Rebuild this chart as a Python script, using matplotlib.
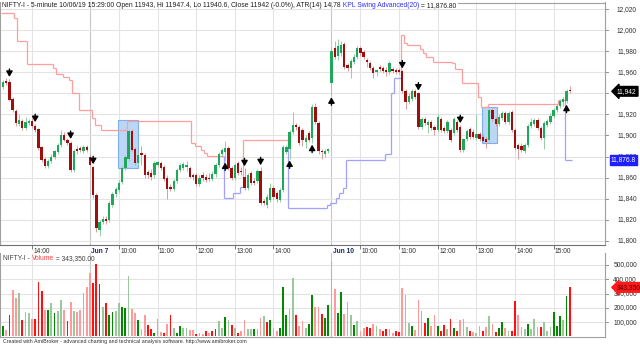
import matplotlib
matplotlib.use('Agg')
import matplotlib.pyplot as plt
from matplotlib.patches import Rectangle
from matplotlib.lines import Line2D
import matplotlib.transforms as mtrans

plt.rcParams['font.family'] = ['Liberation Sans', 'DejaVu Sans']

# ---------------- data ----------------
opens = [11946, 11952, 11951, 11935, 11923, 11911, 11914, 11907, 11912, 11914,
         11909, 11906, 11889, 11878, 11871, 11876, 11880, 11884, 11891, 11900,
         11896, 11893, 11867, 11887, 11888, 11885, 11889,
         11880, 11870, 11843, 11810, 11818, 11821, 11820, 11834, 11844, 11848,
         11856, 11869, 11878, 11904, 11887, 11874, 11883, 11881, 11865, 11864,
         11862, 11872, 11874, 11870, 11860, 11851, 11849, 11857, 11867, 11869,
         11870, 11869, 11862, 11862, 11854, 11862, 11861, 11860, 11859, 11863,
         11872, 11882, 11884, 11888, 11869, 11860, 11874, 11866, 11861, 11850,
         11864, 11857, 11857, 11866, 11838, 11834, 11839, 11850, 11845, 11839,
         11848, 11884, 11887, 11903, 11910, 11908, 11905, 11894, 11902, 11898,
         11927, 11912, 11885, 11882, 11885,
         11950, 11983, 11976, 11978, 11987, 11967, 11964, 11970, 11975, 11983,
         11979, 11972, 11969, 11964, 11960, 11965, 11964, 11962, 11960, 11963,
         11962, 11962, 11961, 11942, 11932, 11935, 11942, 11940, 11908, 11916,
         11910, 11913, 11908, 11905, 11916, 11907, 11904, 11905, 11902, 11913,
         11908, 11886, 11897, 11906, 11903, 11898, 11901, 11899, 11897, 11896,
         11924, 11916, 11911, 11917, 11921, 11913, 11922, 11905, 11891, 11890,
         11885, 11891, 11909, 11911, 11915, 11907, 11898, 11910, 11913, 11919,
         11924, 11928, 11932, 11933, 11943]
highs = [11953, 11955, 11954, 11937, 11925, 11920, 11916, 11918, 11916, 11917,
         11911, 11907, 11890, 11880, 11878, 11882, 11886, 11893, 11905, 11903,
         11898, 11895, 11887, 11890, 11890, 11891, 11891,
         11882, 11871, 11845, 11820, 11823, 11823, 11838, 11846, 11851, 11858,
         11871, 11881, 11906, 11906, 11889, 11883, 11890, 11883, 11867, 11868,
         11876, 11876, 11876, 11872, 11862, 11854, 11859, 11869, 11874, 11875,
         11876, 11871, 11864, 11864, 11862, 11865, 11863, 11864, 11866, 11874,
         11884, 11888, 11895, 11890, 11871, 11874, 11876, 11870, 11869, 11864,
         11866, 11860, 11868, 11870, 11840, 11844, 11855, 11852, 11847, 11850,
         11891, 11891, 11905, 11922, 11912, 11910, 11907, 11900, 11904, 11930,
         11931, 11914, 11887, 11887, 11888,
         11984, 11990, 11992, 11990, 11989, 11969, 11973, 11977, 11985, 11985,
         11981, 11974, 11971, 11966, 11963, 11967, 11966, 11965, 11971, 11965,
         11964, 11964, 11962, 11944, 11940, 11944, 11944, 11941, 11918, 11918,
         11915, 11915, 11910, 11920, 11918, 11909, 11915, 11907, 11918, 11915,
         11910, 11898, 11906, 11908, 11906, 11920, 11903, 11901, 11899, 11926,
         11926, 11918, 11920, 11923, 11923, 11923, 11924, 11907, 11893, 11893,
         11893, 11911, 11917, 11917, 11917, 11909, 11914, 11916, 11921, 11926,
         11930, 11935, 11937, 11944, 11947.4]
lows = [11944, 11948, 11933, 11922, 11909, 11909, 11905, 11905, 11910, 11907,
        11903, 11886, 11875, 11869, 11869, 11874, 11878, 11882, 11889, 11895,
        11891, 11865, 11865, 11882, 11884, 11883, 11884,
        11871, 11841, 11808, 11804, 11816, 11816, 11818, 11832, 11842, 11846,
        11854, 11867, 11876, 11885, 11872, 11872, 11872, 11860, 11860, 11858,
        11860, 11870, 11867, 11857, 11840, 11847, 11847, 11855, 11865, 11867,
        11866, 11860, 11858, 11852, 11852, 11857, 11856, 11857, 11857, 11861,
        11870, 11880, 11876, 11867, 11858, 11858, 11862, 11862, 11848, 11848,
        11853, 11853, 11855, 11834, 11834, 11831, 11837, 11840, 11837, 11837,
        11846, 11882, 11878, 11901, 11905, 11891, 11890, 11888, 11894, 11893,
        11911, 11882, 11878, 11880, 11883,
        11938, 11973, 11972, 11976, 11963, 11961, 11955, 11968, 11973, 11976,
        11973, 11965, 11962, 11955, 11957, 11961, 11959, 11957, 11958, 11959,
        11958, 11958, 11940, 11925, 11930, 11933, 11935, 11906, 11906, 11910,
        11902, 11905, 11900, 11903, 11903, 11902, 11902, 11894, 11900, 11903,
        11884, 11884, 11895, 11897, 11897, 11896, 11895, 11893, 11888, 11894,
        11914, 11909, 11909, 11915, 11911, 11911, 11903, 11886, 11878, 11884,
        11883, 11889, 11907, 11909, 11905, 11896, 11887, 11908, 11911, 11917,
        11922, 11926, 11928, 11931, 11940.6]
closes = [11951, 11950, 11934, 11924, 11912, 11915, 11907, 11913, 11914, 11909,
          11905, 11888, 11877, 11871, 11876, 11880, 11885, 11891, 11900, 11896,
          11893, 11867, 11885, 11885, 11886, 11889, 11886,
          11872, 11843, 11812, 11818, 11821, 11819, 11836, 11844, 11849, 11855,
          11869, 11880, 11904, 11886, 11874, 11881, 11881, 11862, 11862, 11861,
          11874, 11875, 11869, 11859, 11849, 11849, 11857, 11867, 11872, 11873,
          11872, 11861, 11861, 11854, 11860, 11860, 11858, 11859, 11863, 11872,
          11882, 11886, 11888, 11869, 11860, 11872, 11864, 11865, 11850, 11862,
          11855, 11855, 11866, 11836, 11836, 11842, 11850, 11842, 11840, 11848,
          11889, 11889, 11903, 11910, 11908, 11893, 11896, 11898, 11896, 11927,
          11913, 11885, 11884, 11885, 11887,
          11980, 11975, 11985, 11986, 11965, 11964, 11971, 11975, 11983, 11978,
          11975, 11970, 11964, 11959, 11962, 11963, 11961, 11960, 11969, 11961,
          11960, 11960, 11942, 11932, 11938, 11942, 11937, 11908, 11916, 11912,
          11913, 11907, 11905, 11918, 11905, 11904, 11913, 11896, 11916, 11905,
          11886, 11897, 11904, 11899, 11899, 11901, 11897, 11895, 11894, 11924,
          11916, 11911, 11918, 11921, 11913, 11921, 11905, 11888, 11887, 11886,
          11891, 11909, 11913, 11915, 11907, 11898, 11912, 11914, 11919, 11924,
          11928, 11933, 11935, 11942, 11942]
volumes = [70000, 42000, 147000, 328000, 270000, 307000, 116000, 170000, 163000, 123000,
           119000, 384000, 319000, 188000, 186000, 237000, 167000, 179000, 256000, 184000,
           105000, 244000, 179000, 170000, 186000, 305000, 344000, 442000, 377000, 507000,
           367000, 209000, 235000, 147000, 170000, 177000, 237000, 209000, 202000, 423000,
           193000, 167000, 116000, 51000, 153000, 77000, 49000, 26000, 123000, 28000,
           21000, 88000, 153000, 60000, 26000, 70000, 58000, 60000, 42000, 47000,
           16000, 26000, 19000, 35000, 23000, 35000, 49000, 107000, 58000, 133000,
           112000, 81000, 60000, 23000, 40000, 116000, 51000, 53000, 51000, 53000,
           126000, 144000, 100000, 116000, 60000, 37000, 60000, 349000, 147000, 193000,
           409000, 147000,
           74000, 109000, 56000, 86000, 288000, 207000, 207000, 156000, 126000, 219000,
           528000, 330000, 163000, 309000, 156000, 244000, 153000, 81000, 107000, 37000,
           58000, 65000, 60000, 86000, 72000, 53000, 35000, 53000, 51000, 23000,
           35000, 33000, 340000, 288000, 93000, 74000, 44000, 253000, 181000, 95000,
           128000, 74000, 149000, 72000, 40000, 81000, 53000, 119000, 58000, 37000,
           114000, 119000, 67000, 37000, 33000, 23000, 74000, 37000, 67000, 142000,
           88000, 30000, 58000, 100000, 58000, 35000, 37000, 247000, 149000, 65000,
           53000, 86000, 53000, 119000, 67000, 67000, 98000, 37000, 67000, 170000,
           72000, 142000, 114000, 281000, 343350]
vol_codes = ("gprppGrGGp" "rrrpgGgGGp" "rpGppGpprr" "gGrggGGggG" "ppgpprrgGp"
             "rprGggGGpp" "rGprprgGGg" "GrGrppGGgG" "pGrgppgggG" "Gr"
             "ppGggpprgg" "GpggppGgGp" "prrpGprrGp" "rrppGgppGr" "gppgrrGrgr"
             "pGGrpGprpG" "prggpGrrpp" "GgGGprGGGg" "ggGgr")

hour_ticks = [9, 36, 48, 60, 72, 84, 111, 123, 135, 147, 159, 171]
hour_labels = ['14:00', '10:00', '11:00', '12:00', '13:00', '14:00',
               '10:00', '11:00', '12:00', '13:00', '14:00', '15:00']
day_starts = [27, 102]
day_labels = ['Jun 7', 'Jun 10']
price_ticks = list(range(11800, 12021, 20))
hidden_price_ticks = [11940]          # covered by the last-close marker
vol_ticks = [100000, 200000, 300000, 400000, 500000]

swing_start = [0, 4, 5, 8, 16, 17, 19, 21, 22, 24, 28, 29, 31, 39, 59, 60, 62, 63, 64,
               69, 72, 74, 75, 89, 101, 102, 104, 105, 106, 107, 119, 121, 122,
               124, 125, 126, 130, 131, 132, 134, 140, 141, 143, 148, 149, 151, 173, 175]
swing_level = [12016, 12012, 11990, 11968, 11964, 11958.5, 11956, 11953, 11940, 11924,
               11917, 11910, 11905, 11914, 11893, 11890, 11886, 11883, 11880.6,
               11840.7, 11845.5, 11851, 11896, 11831, 11834, 11836, 11840.7, 11845, 11850,
               11877, 11882.5, 11940, 11955,
               11995.6, 11988, 11986, 11982, 11978, 11975, 11970, 11969, 11963, 11950,
               11937, 11927, 11930, 11934, 11876.8]
swing_side = "RRRRRRRRRRRRRRRRRRRSSSRSSSSSSSSSSRRRRRRRRRRRRRRS"

down_arrows = [2, 10, 21, 28, 75, 80, 124, 129, 142]
up_arrows = [69, 89, 96, 102, 175]

box_x0 = [35.7, 148.9]
box_x1 = [41.9, 153.3]
box_lo = [11869, 11893.3]
box_hi = [11915, 11927.5]

header_parts = [("NIFTY-I - 5-minute 10/06/19 15:29:00 Open 11943, Hi 11947.4, Lo 11940.6, "
                 "Close 11942 (-0.0%), ATR(14) 14.78", '#202020'),
                (" KPL Swing Advanced(20)", '#3030ff'),
                (" = 11,876.80", '#202020')]
last_close_label = "11,942"
swing_label = "11,876.8"
vol_label = "343,350"

# ---------------- figure ----------------
W, H = 640, 346
fig = plt.figure(figsize=(6.4, 3.46), dpi=100)


def fx(px):
    return px / W


def fy(py):
    return 1 - py / H


ax = fig.add_axes([0, fy(245), fx(605), (245 - 2) / H])
axv = fig.add_axes([0, fy(337), fx(605), (337 - 253) / H])
n = len(closes)
XMIN, XMAX = -0.93, 186.95
FS = 4.8
grid_c = '#e3e3e3'

for a in (ax, axv):
    a.set_xlim(XMIN, XMAX)
    a.set_facecolor('white')
    for s in a.spines.values():
        s.set_color('#a0a0a0')
        s.set_linewidth(0.8)
    a.spines['top'].set_visible(False)
    a.set_yticks([])
    for t in hour_ticks:
        a.axvline(t, color=grid_c, lw=0.8, zorder=0)
    for t in day_starts:
        a.axvline(t, color='#c8c8c8', lw=0.8, zorder=0)

ax.spines['bottom'].set_color('#707070')
ax.set_ylim(11795.9, 12026.9)
for v in price_ticks:
    ax.axhline(v, color=grid_c, lw=0.8, zorder=0)
ax.set_xticks(hour_ticks)
ax.tick_params(axis='x', direction='out', length=3.2, width=0.6, color='#606060',
               labelbottom=False)
axv.set_xticks([])
trans = mtrans.blended_transform_factory(ax.transAxes, ax.transData)
for v in price_ticks:
    if v not in hidden_price_ticks:
        ax.text(637 / 605, v, f"{v:,}", transform=trans, ha='right', va='center',
                fontsize=FS, color='#303030', clip_on=False)
    ax.plot([1.0, 1.005], [v, v], transform=trans, color='#808080', lw=0.6, clip_on=False)

# time labels
for t, lab in zip(hour_ticks, hour_labels):
    ax.annotate(lab, xy=(t, 0), xycoords=('data', 'axes fraction'), xytext=(1.0, -2.0),
                textcoords='offset points', ha='left', va='top', fontsize=FS, color='#303030')
for t, lab in zip(day_starts, day_labels):
    ax.annotate(lab, xy=(t, 0), xycoords=('data', 'axes fraction'), xytext=(1.0, -2.0),
                textcoords='offset points', ha='left', va='top', fontsize=FS,
                color='#1c2a5a', fontweight='bold')

# boxes
for x0, x1, lo, hi in zip(box_x0, box_x1, box_lo, box_hi):
    ax.add_patch(Rectangle((x0, lo), x1 - x0, hi - lo, fc='#bcd7f6', ec='#7eb0ea',
                           lw=0.8, zorder=1))

# swing line
side_col = {'R': '#ff9c9c', 'S': '#a0a0ff'}
for k in range(len(swing_start)):
    x0 = swing_start[k] - 0.5
    x1 = swing_start[k + 1] - 0.5 if k + 1 < len(swing_start) else n - 0.4
    col = side_col[swing_side[k]]
    ax.plot([x0, x1], [swing_level[k]] * 2, color=col, lw=0.9, zorder=2,
            solid_capstyle='butt')
    if k > 0:
        ax.plot([x0, x0], [swing_level[k - 1], swing_level[k]], color=col, lw=0.9,
                zorder=2, solid_capstyle='butt')

# candles
up_body, dn_body = '#1ea85a', '#a00d0d'
up_wick, dn_wick = '#94cfa3', '#dc9c9c'
xs = list(range(n))
is_up = [c > o for o, c in zip(opens, closes)]
ax.vlines(xs, lows, highs, colors=[up_wick if u else dn_wick for u in is_up], lw=0.7, zorder=3)
bottoms = [min(o, c) for o, c in zip(opens, closes)]
heights = [max(abs(c - o), 0.9) for o, c in zip(opens, closes)]
ax.bar(xs, heights, bottom=bottoms, width=0.72,
       color=[up_body if u else dn_body for u in is_up], zorder=4, linewidth=0)

# arrows
astyle = '-|>,head_length=0.65,head_width=0.38'
for i in down_arrows:
    ax.annotate('', xy=(i, highs[i]), xytext=(0, 7.0), textcoords='offset points',
                arrowprops=dict(arrowstyle=astyle, color='black', lw=1.0,
                                shrinkA=0, shrinkB=1.3, mutation_scale=5), zorder=6)
for i in up_arrows:
    ax.annotate('', xy=(i, lows[i]), xytext=(0, -7.0), textcoords='offset points',
                arrowprops=dict(arrowstyle=astyle, color='black', lw=1.0,
                                shrinkA=0, shrinkB=1.3, mutation_scale=5), zorder=6)

# right labels
ax.text(617 / 605, closes[-1], last_close_label, transform=trans, ha='left', va='center',
        fontsize=FS, color='white', clip_on=False, zorder=10,
        bbox=dict(boxstyle='larrow,pad=0.2', fc='black', ec='black'))
ax.text(611 / 605, swing_level[-1], swing_label, transform=trans, ha='left', va='center',
        fontsize=FS, color='white', clip_on=False, zorder=10,
        bbox=dict(boxstyle='square,pad=0.2', fc='#1e1eff', ec='#1e1eff'))

# volume
axv.set_ylim(-3500, 584000)
for v in vol_ticks:
    axv.axhline(v, color=grid_c, lw=0.8, zorder=0)
vcol = {'g': '#008a00', 'G': '#9cc79c', 'r': '#ff1010', 'p': '#ff9a9a'}
axv.bar(xs, volumes, width=0.55, color=[vcol[c] for c in vol_codes], zorder=3, linewidth=0)
transv = mtrans.blended_transform_factory(axv.transAxes, axv.transData)
for v in vol_ticks:
    axv.text(637 / 605, v, f"{v:,}", transform=transv, ha='right', va='center',
             fontsize=FS, color='#303030', clip_on=False)
    axv.plot([1.0, 1.005], [v, v], transform=transv, color='#808080', lw=0.6, clip_on=False)
axv.text(617 / 605, volumes[-1], vol_label, transform=transv, ha='left', va='center',
         fontsize=FS, color='#500000', clip_on=False, zorder=10,
         bbox=dict(boxstyle='larrow,pad=0.2', fc='#ff1a1a', ec='#ff1a1a'))

# header
renderer = fig.canvas.get_renderer()
xpos = fx(2)
for txt, col in header_parts:
    t = fig.text(xpos, fy(5.5), txt, color=col, fontsize=4.9, va='center', ha='left')
    bb = t.get_window_extent(renderer)
    xpos = fig.transFigure.inverted().transform((bb.x1, bb.y0))[0]
fig.add_artist(Line2D([xpos + fx(2), fx(605)], [fy(2.5), fy(2.5)], color='#a0a0a0', lw=0.8))

# volume title
vparts = [("NIFTY-I - ", '#404040'), ("Volume", '#ff4040'), (" = 343,350.00", '#404040')]
xpos = fx(3)
for txt, col in vparts:
    t = fig.text(xpos, fy(258.5), txt, color=col, fontsize=FS, va='center', ha='left')
    bb = t.get_window_extent(renderer)
    xpos = fig.transFigure.inverted().transform((bb.x1, bb.y0))[0]

fig.text(fx(3), fy(341.5), "Created with AmiBroker - advanced charting and technical analysis "
         "software. http://www.amibroker.com", fontsize=3.8, color='#303030', va='center')

fig.savefig('out.png', dpi=100)
